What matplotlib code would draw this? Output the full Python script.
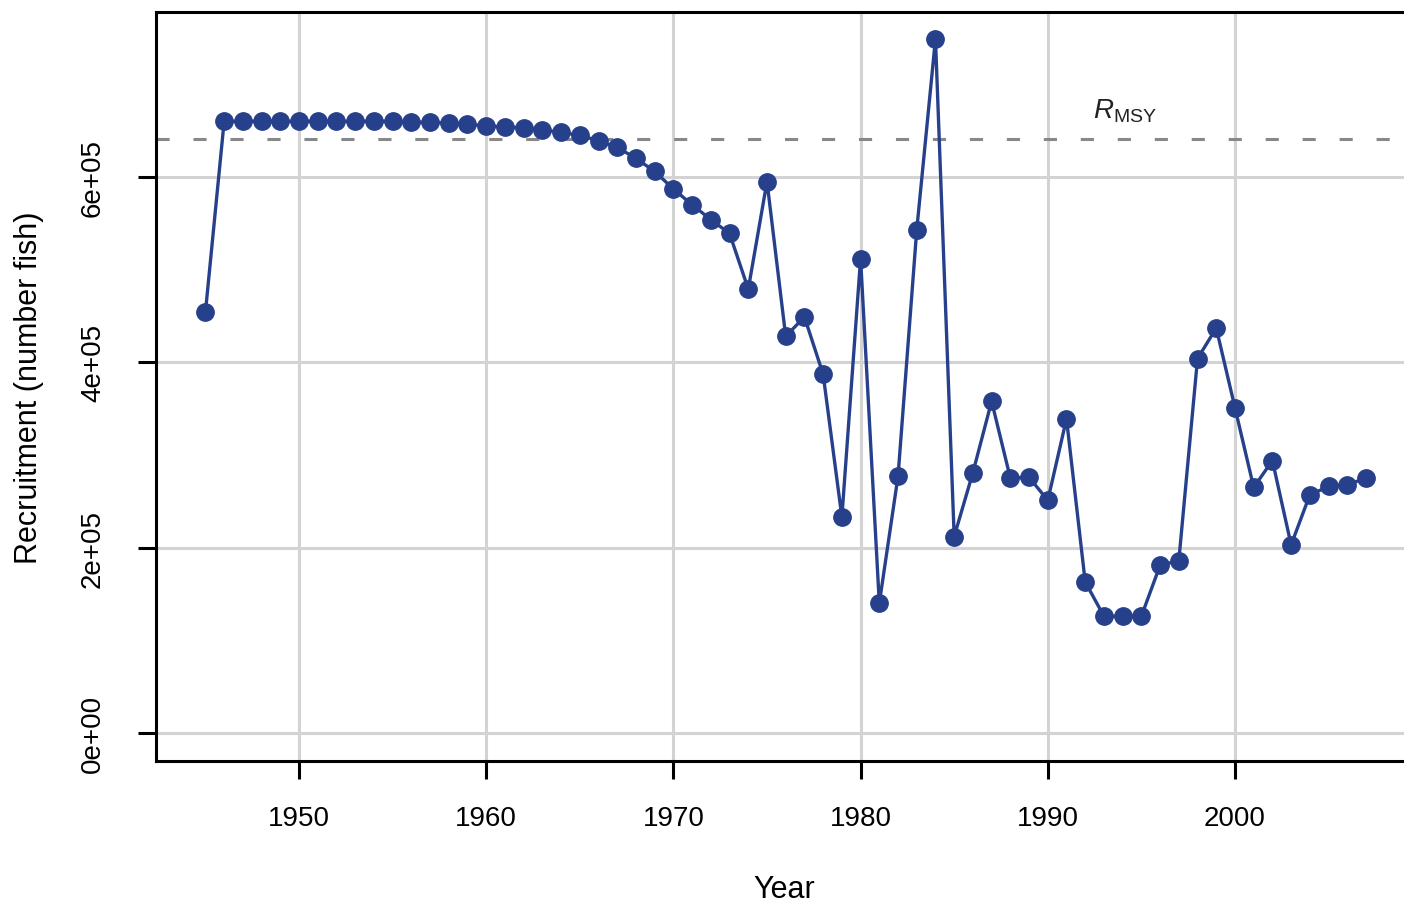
import numpy as np
import matplotlib
matplotlib.use('Agg')
import matplotlib.pyplot as plt

plt.rcParams['font.family'] = ['Liberation Sans', 'DejaVu Sans']
plt.rcParams['mathtext.fontset'] = 'custom'
plt.rcParams['mathtext.rm'] = 'Liberation Sans'
plt.rcParams['mathtext.it'] = 'Liberation Sans:italic'

# recruitment time series (number of fish)
years = np.arange(1945, 2008)
recruits = [
    454e3, 660e3, 660e3, 660e3, 660e3, 660e3, 660e3, 660e3, 660e3, 660e3,
    660e3, 659e3, 659e3, 658e3, 657e3, 655e3, 654e3, 653e3, 651e3, 648e3,
    645e3, 639e3, 632e3, 620e3, 606e3, 587e3, 570e3, 554e3, 539e3, 479e3,
    595e3, 428e3, 449e3, 387e3, 233e3, 512e3, 140e3, 277e3, 543e3, 749e3,
    212e3, 281e3, 358e3, 275e3, 276e3, 251e3, 339e3, 163e3, 126e3, 126e3,
    126e3, 181e3, 186e3, 404e3, 437e3, 351e3, 265e3, 294e3, 203e3, 257e3,
    266e3, 268e3, 275e3,
]
r_msy = 641e3

xticks = [1950, 1960, 1970, 1980, 1990, 2000]
yticks = [0, 2e5, 4e5, 6e5]
ytick_labels = ['0e+00', '2e+05', '4e+05', '6e+05']

W, H = 1404, 904
fig = plt.figure(figsize=(W / 100, H / 100), dpi=100)
# plot region runs past the right edge of the canvas
ax = fig.add_axes([156 / W, (H - 762) / H, 1256.8 / W, 749 / H])
ax.set_xlim(1942.36, 2009.5)
ax.set_ylim(-30200, 778000)

ax.set_xticks(xticks)
ax.set_yticks(yticks)
ax.set_yticklabels(ytick_labels, rotation=90, va='center')
ax.grid(True, color='#d3d3d3', lw=2.2, zorder=0)
ax.set_axisbelow(True)
ax.tick_params(axis='both', length=13, width=2.2, direction='out',
               labelsize=20, pad=19)
ax.tick_params(axis='y', pad=23)
for sp in ax.spines.values():
    sp.set_linewidth(2.2)
    sp.set_color('black')

ax.axhline(r_msy, color='#888888', lw=2.2, ls=(0, (4.3, 7.8)), zorder=2)
ax.text(1994.1, 672e3, r'$R_{\mathrm{MSY}}$', fontsize=20,
        ha='center', va='center', color='#222222')

ax.plot(years, recruits, color='#27408B', lw=2.4, marker='o', ms=12.5,
        zorder=3)

ax.set_xlabel('Year', fontsize=22, labelpad=31)
ax.set_ylabel('Recruitment (number fish)', fontsize=22, labelpad=26)

fig.savefig('out.png', dpi=100)
